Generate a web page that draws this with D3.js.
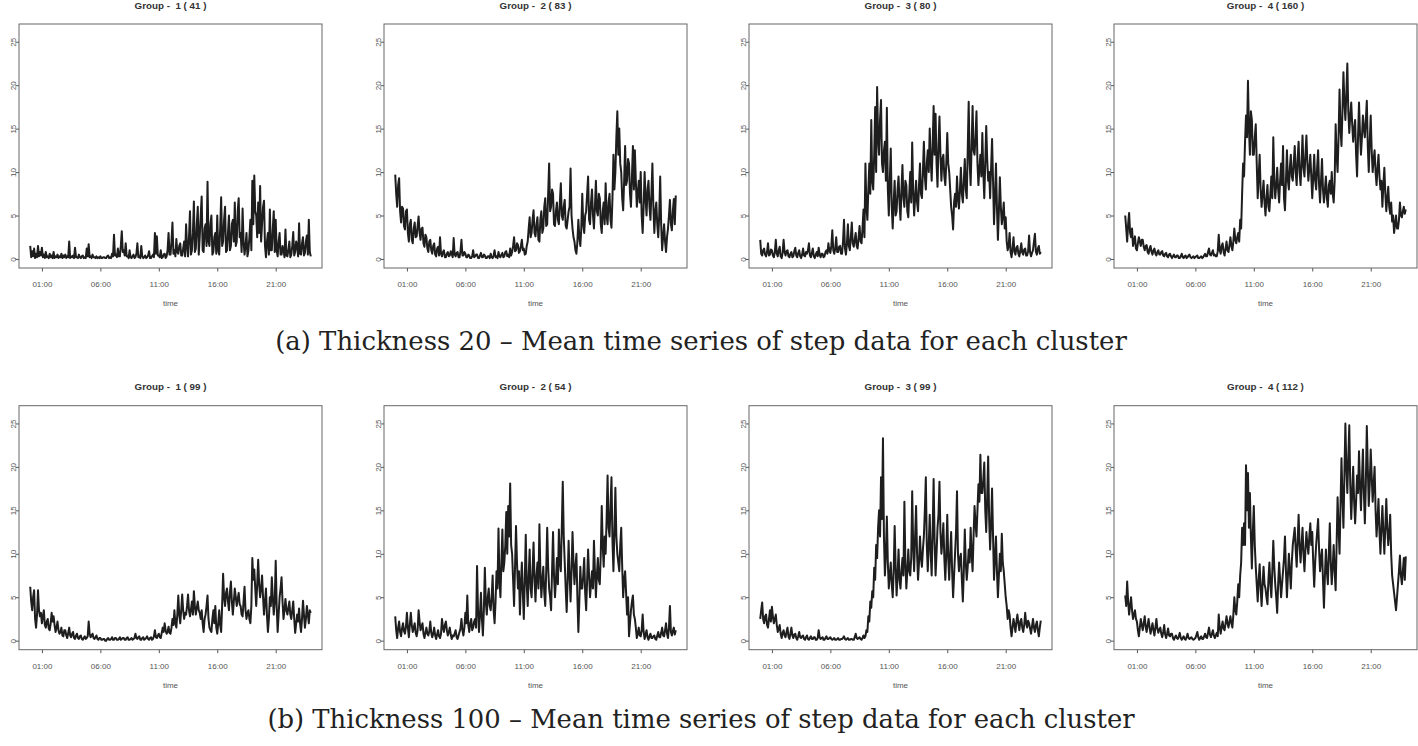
<!DOCTYPE html>
<html>
<head>
<meta charset="utf-8">
<script src="https://cdn.jsdelivr.net/npm/d3@7"></script>
<style>
  body { margin: 0; background: #fff; }
  svg { display: block; }
  .tick text { font-family: "Liberation Sans", Arial, sans-serif; font-size: 8px; fill: #555; }
  .tick line { stroke: #555; }
</style>
</head>
<body>
<svg id="chart" width="1418" height="746"></svg>
<script>
// mean steps per 5-minute slot, 00:00 .. 24:00 (289 values, one row per hour)
const thick20g1 = [
  1.5,0.2,0.9,0.3,1.2,0.1,0.6,0.2,1.5,0.3,0.8,0.4,
  1.3,0.2,0.5,0.1,0.8,0.2,0.3,0.1,0.6,0.2,0.4,0.1,
  0.8,0.1,0.3,0.2,0.5,0.1,0.3,0.2,0.6,0.1,0.4,0.2,
  0.5,0.1,0.3,0.2,2.0,0.1,0.3,0.2,0.4,0.1,1.3,0.2,
  0.2,0.1,0.5,0.2,0.1,0.3,0.4,0.1,0.2,0.1,1.2,0.3,
  1.7,0.2,0.3,0.1,0.5,0.2,0.2,0.1,0.3,0.1,0.2,0.1,
  0.3,0.1,0.1,0.2,0.2,0.1,0.1,0.3,0.4,0.1,0.2,0.1,
  0.6,0.3,2.8,0.4,0.5,0.2,1.2,0.3,0.3,1.5,3.2,0.8,
  1.0,0.4,1.8,0.3,0.3,0.1,1.0,0.2,0.1,0.3,0.5,0.1,
  0.2,0.6,1.8,0.2,0.3,0.1,1.5,0.3,0.1,0.2,0.4,0.1,
  0.2,0.4,0.9,0.1,0.1,0.3,0.5,0.2,3.0,0.6,2.6,0.4,
  0.4,0.2,1.0,0.1,0.2,0.5,0.6,0.1,0.3,1.0,3.0,0.5,
  0.5,2.0,4.2,0.6,1.0,0.3,2.3,0.8,0.6,1.5,1.8,0.4,
  0.4,1.2,2.0,0.3,4.0,1.5,0.3,2.5,5.5,0.5,1.0,3.0,
  6.6,0.8,1.2,4.0,6.0,0.5,2.5,5.0,7.2,1.0,0.8,3.5,
  4.0,1.5,8.9,2.0,1.5,4.0,5.0,0.5,0.8,2.5,3.0,0.6,
  5.0,1.0,0.5,3.5,7.1,1.5,2.0,4.5,6.0,0.8,1.0,3.0,
  5.0,1.0,1.5,4.0,4.5,2.0,6.5,1.5,2.0,5.5,7.0,2.5,
  3.0,0.8,5.8,2.0,0.5,1.5,3.0,0.3,1.0,2.5,4.5,1.0,
  9.0,4.0,9.6,5.5,5.0,2.5,6.5,3.0,8.4,2.0,4.0,6.0,
  6.7,1.5,0.2,2.0,3.0,0.5,5.7,1.0,1.0,3.5,5.5,0.8,
  4.5,1.0,0.3,2.0,3.0,0.5,0.5,1.5,1.0,0.2,3.4,0.4,
  0.3,1.0,2.0,0.2,0.5,1.5,3.1,0.4,0.8,2.0,1.5,0.3,
  4.1,0.6,0.5,1.8,2.5,0.4,0.7,2.0,2.7,0.5,4.5,0.8,
  0.3
];
const thick20g2 = [
  9.7,7.5,6.0,8.5,9.3,5.5,4.2,6.0,5.8,3.8,3.4,5.5,
  5.7,3.0,2.0,4.0,4.5,2.2,1.8,3.5,4.2,2.5,2.6,3.8,
  4.9,3.0,2.2,3.5,3.6,1.8,1.4,2.8,2.5,1.2,0.8,2.0,
  2.2,1.0,0.6,1.5,1.8,0.5,0.3,1.2,1.4,0.4,2.5,0.6,
  0.3,0.8,1.0,0.2,0.2,0.6,0.8,0.3,0.4,0.9,0.6,0.2,
  2.4,0.5,0.3,0.7,0.8,0.2,0.2,0.9,2.2,0.4,0.4,0.8,
  0.6,0.2,0.2,0.5,0.4,0.1,0.1,0.3,1.0,0.2,0.3,0.5,
  0.5,0.1,0.1,0.4,0.7,0.2,0.2,0.5,0.4,0.1,0.1,0.3,
  0.3,0.1,0.6,0.2,0.1,0.4,1.0,0.2,0.3,0.1,0.8,0.3,
  0.2,0.5,0.7,0.2,0.3,0.8,0.9,0.3,0.5,0.2,1.2,0.4,
  0.8,1.5,2.5,0.9,1.0,1.8,1.6,0.7,0.9,1.5,2.2,1.0,
  1.2,0.5,0.6,1.5,2.0,3.5,4.8,2.5,3.0,4.5,5.6,3.0,
  2.6,4.0,4.8,2.2,2.0,4.5,5.5,3.0,3.5,6.0,7.0,3.8,
  4.0,7.5,11.0,5.5,6.0,8.0,7.5,4.0,3.8,5.5,6.5,4.5,
  4.0,6.5,8.7,5.0,4.5,6.0,6.8,3.8,3.5,4.5,5.5,6.0,
  10.4,5.0,3.5,2.5,2.0,1.0,0.6,2.0,4.5,2.5,1.5,3.5,
  7.5,4.0,3.0,5.0,5.5,7.5,9.5,4.5,4.0,6.5,8.0,5.0,
  3.5,6.0,9.0,5.5,5.0,7.5,7.0,4.0,3.0,5.5,6.5,4.0,
  8.7,5.0,4.0,6.5,7.5,4.5,3.6,7.0,12.0,8.0,10.0,14.0,
  17.0,12.0,15.0,11.0,10.0,7.0,5.6,9.0,13.0,8.5,9.0,11.5,
  11.0,7.5,6.0,9.5,13.0,8.0,12.5,9.0,6.0,7.5,9.0,6.5,
  10.0,5.0,3.0,6.0,10.0,7.0,5.0,8.0,9.0,6.0,4.5,7.5,
  11.0,6.0,3.0,5.5,6.5,4.0,2.5,5.0,9.5,4.0,1.0,2.5,
  4.0,2.0,0.8,2.5,3.5,5.0,6.8,4.0,3.3,5.5,6.9,4.0,
  7.3
];
const thick20g3 = [
  2.2,0.6,0.4,1.0,1.2,0.5,0.3,0.8,1.8,0.4,0.5,1.1,
  1.0,0.4,0.2,0.8,2.2,0.6,0.3,1.0,1.4,0.3,0.1,0.7,
  2.2,0.8,0.4,0.9,1.0,0.3,0.2,0.6,0.8,0.2,0.3,0.9,
  1.3,0.4,0.2,0.7,1.0,0.3,0.1,0.5,1.2,0.4,0.3,0.8,
  0.6,1.0,1.8,0.4,0.2,0.7,1.2,0.3,0.1,0.5,0.8,0.3,
  1.3,0.5,0.2,0.6,0.6,0.2,0.3,0.8,1.0,0.6,1.8,0.9,
  0.7,1.5,3.3,1.0,0.6,1.2,2.5,0.8,0.8,1.4,1.5,0.6,
  0.6,2.0,4.5,1.2,0.5,1.8,4.0,1.5,1.0,2.5,4.2,1.8,
  1.4,2.2,3.0,1.5,1.2,2.5,3.8,2.0,1.8,3.5,5.7,2.5,
  11.0,6.0,4.5,8.0,11.0,7.5,16.0,9.0,8.0,12.0,17.5,10.0,
  19.8,14.0,12.0,16.0,18.3,11.0,10.0,12.5,13.5,9.0,17.4,8.0,
  5.0,9.0,12.7,6.0,3.5,6.5,9.0,5.0,5.5,8.0,9.5,6.5,
  4.5,8.0,10.8,7.0,6.0,9.0,8.5,5.5,4.8,7.5,10.0,6.5,
  13.4,8.0,5.0,7.0,9.0,6.5,5.5,8.5,11.0,7.5,7.0,10.0,
  13.5,9.5,8.0,11.0,12.5,10.0,15.0,11.5,9.0,13.0,17.6,12.0,
  16.7,11.0,8.3,13.0,16.4,12.0,9.0,11.5,12.0,9.5,8.5,11.0,
  14.5,11.0,10.0,8.0,6.0,5.0,3.4,6.5,7.5,6.0,9.5,7.0,
  5.8,8.0,10.5,7.5,6.5,9.0,11.5,8.0,7.0,12.5,18.1,11.0,
  8.5,13.0,17.6,12.5,12.0,14.0,17.0,11.0,8.5,10.5,12.0,9.5,
  14.5,10.0,7.0,11.0,15.3,11.5,9.0,10.0,7.0,10.5,13.8,9.0,
  4.0,7.0,11.0,6.0,2.2,5.5,9.4,6.0,4.0,5.0,6.5,3.5,
  4.8,2.0,1.0,1.5,3.0,0.8,0.2,1.2,2.5,0.8,0.5,1.3,
  1.5,0.6,0.3,1.0,1.8,0.7,0.5,1.1,1.2,0.4,0.4,0.9,
  2.7,0.8,0.3,0.7,1.0,2.0,2.9,0.8,0.5,1.2,1.5,0.6,
  0.8
];
const thick20g4 = [
  5.0,3.5,2.0,4.0,5.3,3.0,2.5,3.5,1.5,2.0,2.6,1.2,
  1.0,1.8,2.5,2.0,1.5,2.2,2.2,1.4,1.0,1.5,1.6,0.8,
  0.6,1.2,1.5,0.8,0.5,1.0,1.2,0.6,0.4,0.8,1.0,0.5,
  0.5,0.8,0.9,0.4,0.3,0.6,0.7,0.3,0.2,0.5,0.6,0.3,
  0.1,0.3,0.5,0.2,0.2,0.4,0.4,0.1,0.1,0.3,0.6,0.2,
  0.1,0.3,0.4,0.1,0.2,0.4,0.5,0.2,0.1,0.2,0.3,0.1,
  0.2,0.3,0.4,0.1,0.1,0.2,0.3,0.1,0.2,0.4,0.6,0.3,
  0.3,0.8,1.2,0.5,0.4,0.7,1.0,0.4,0.5,0.3,0.3,0.9,
  2.8,1.0,0.6,1.5,1.8,0.8,0.4,1.2,2.0,1.0,0.8,1.6,
  2.5,1.5,1.0,2.0,3.5,2.2,1.8,2.5,3.0,2.0,4.5,3.5,
  7.5,11.0,9.5,13.5,16.5,14.0,20.5,15.0,12.0,17.0,16.0,12.0,
  12.0,14.0,15.5,11.0,7.0,9.5,12.0,8.0,6.0,7.5,9.0,6.5,
  5.0,7.0,8.5,6.0,5.5,7.5,9.5,7.0,14.0,9.0,7.0,8.5,
  10.5,8.0,6.5,9.0,11.0,8.5,13.0,7.0,5.6,9.0,12.5,9.0,
  8.0,10.5,12.0,9.5,9.0,11.0,13.0,10.0,8.5,11.5,13.5,10.0,
  8.5,11.0,14.2,10.5,9.5,12.0,14.2,11.0,9.0,10.5,12.0,9.5,
  7.0,9.5,12.0,9.0,8.0,10.5,12.5,8.5,6.5,9.0,11.5,8.0,
  6.5,8.0,9.5,7.0,6.0,8.5,9.0,7.5,10.0,7.5,6.5,9.0,
  15.5,12.0,10.0,14.0,19.5,15.0,13.0,17.0,21.5,18.0,16.0,19.0,
  22.5,17.0,14.5,16.5,18.0,15.5,13.5,15.0,16.0,12.0,9.5,14.0,
  18.0,14.5,12.0,14.0,16.5,15.0,14.0,16.0,18.2,13.0,10.0,13.5,
  16.5,12.5,10.0,11.5,12.5,10.0,8.5,10.5,12.0,9.5,8.0,9.0,
  6.0,8.5,10.5,7.5,5.5,7.0,8.3,6.0,5.2,6.5,4.3,5.0,
  3.0,4.0,5.0,3.5,3.5,4.5,6.5,5.0,4.8,5.5,6.0,5.2,
  5.7
];
const thick100g1 = [
  6.2,4.5,3.5,5.0,5.8,2.5,1.5,3.0,5.8,3.5,2.8,3.2,
  2.0,2.8,3.5,1.8,1.5,2.2,2.5,1.4,1.2,2.0,3.2,2.2,
  2.8,1.8,1.0,1.5,2.2,1.2,0.8,1.0,1.5,0.6,0.5,1.2,
  1.2,0.6,0.3,0.9,1.5,0.6,0.4,0.8,1.0,0.3,0.2,0.6,
  0.8,0.3,0.2,0.5,0.6,0.2,0.1,0.3,0.5,0.2,0.3,0.5,
  2.2,0.8,0.4,0.6,0.8,0.3,0.2,0.4,0.6,0.2,0.1,0.3,
  0.3,0.1,0.1,0.2,0.2,0.0,0.0,0.2,0.3,0.1,0.1,0.2,
  0.4,0.1,0.1,0.3,0.3,0.1,0.1,0.2,0.4,0.1,0.2,0.3,
  0.3,0.1,0.1,0.3,0.4,0.1,0.1,0.2,0.3,0.1,0.2,0.3,
  0.8,0.3,0.2,0.4,0.5,0.1,0.1,0.3,0.4,0.1,0.2,0.3,
  0.5,0.2,0.1,0.3,0.4,0.1,0.2,0.5,1.2,0.4,0.3,0.6,
  0.8,0.4,0.3,0.9,1.5,1.0,2.0,1.2,0.8,1.0,1.6,0.9,
  0.8,1.5,2.5,1.8,3.5,2.0,1.5,3.0,5.2,3.0,2.0,3.5,
  5.3,3.5,2.5,3.2,3.0,4.0,5.3,3.5,2.8,3.6,4.5,3.0,
  5.7,4.0,3.0,3.8,4.5,3.5,3.2,2.5,3.5,2.0,1.0,2.5,
  3.0,4.0,5.2,2.5,1.5,1.2,1.0,2.5,3.5,2.0,4.0,1.5,
  0.8,2.0,3.5,1.8,1.0,4.0,7.7,5.0,4.0,5.5,6.0,4.5,
  3.5,5.5,6.8,4.5,3.0,4.5,6.0,5.0,4.0,4.8,5.5,4.2,
  4.0,3.0,2.8,4.5,6.2,3.5,2.5,3.2,3.5,2.5,2.0,4.0,
  9.5,7.0,8.2,6.0,4.0,6.5,9.3,6.5,5.0,6.0,7.5,5.0,
  3.0,4.5,6.0,3.0,1.0,2.5,5.0,4.0,7.3,5.0,3.0,4.5,
  9.2,4.0,1.0,3.0,5.0,6.0,7.3,4.5,2.5,3.5,4.8,3.5,
  3.0,3.8,4.5,3.0,2.5,3.5,4.5,2.5,0.9,2.0,3.0,2.2,
  3.7,2.0,1.0,2.5,4.6,3.0,1.5,2.5,4.0,3.0,2.0,3.5,
  3.2
];
const thick100g2 = [
  2.8,1.2,0.3,1.5,2.2,1.0,0.5,1.4,2.0,1.1,0.8,1.6,
  3.2,1.5,0.4,1.8,3.2,1.8,1.0,1.5,2.0,0.9,0.5,1.2,
  3.5,2.2,1.2,1.6,2.0,0.8,0.3,0.9,1.5,0.8,0.6,1.1,
  2.2,0.9,0.4,0.8,1.5,0.6,0.2,0.7,1.2,0.5,0.3,0.8,
  2.5,1.5,1.0,1.8,2.2,1.2,0.6,1.0,1.5,0.7,0.2,0.6,
  0.5,0.8,1.2,0.4,0.2,0.6,1.0,1.4,2.5,1.2,0.6,1.5,
  3.2,2.0,5.2,1.8,1.0,2.0,2.5,1.2,1.5,2.2,2.5,1.5,
  8.6,3.5,1.0,3.0,5.5,2.5,0.6,3.5,8.4,4.5,3.0,5.0,
  6.0,4.0,3.5,5.0,7.5,3.5,2.0,4.5,8.0,6.0,12.9,7.0,
  5.0,9.0,12.8,8.0,9.0,11.0,14.8,10.0,15.5,12.0,18.1,11.0,
  10.0,7.0,4.0,8.5,13.2,9.0,6.0,8.0,3.0,6.5,9.0,5.5,
  2.5,7.0,12.2,6.5,4.0,7.5,10.5,6.0,5.0,8.0,11.3,7.0,
  4.5,7.5,9.0,6.0,13.4,8.0,5.0,7.0,8.5,5.5,4.0,8.0,
  13.0,8.5,6.0,5.0,3.5,8.0,12.5,7.5,5.0,7.0,9.5,6.5,
  12.8,9.0,8.0,13.0,18.3,12.0,9.0,6.0,3.3,7.0,11.5,7.5,
  4.5,8.0,12.5,9.0,6.5,8.5,10.0,5.0,1.0,4.5,8.5,6.0,
  6.0,7.5,9.5,5.5,3.5,7.0,10.5,7.5,5.0,6.5,8.0,6.0,
  11.5,8.0,5.0,7.5,9.5,7.0,6.5,10.0,15.5,11.0,8.5,12.0,
  10.0,14.0,19.0,13.0,12.0,15.5,18.8,11.5,8.0,12.5,17.6,12.0,
  10.0,9.0,8.0,11.0,13.0,8.5,5.0,7.0,8.0,5.5,3.0,5.0,
  0.5,2.0,3.5,4.5,5.2,3.0,2.5,1.5,0.3,0.8,1.5,0.6,
  0.5,1.2,3.0,1.0,0.2,0.7,1.2,0.4,0.1,0.5,0.8,0.3,
  0.3,0.5,0.6,0.2,0.1,0.6,1.0,0.4,0.4,0.9,1.5,0.6,
  0.5,1.2,2.0,0.8,0.3,1.5,4.0,1.0,0.6,1.1,1.5,0.7,
  1.2
];
const thick100g3 = [
  2.5,3.5,4.4,2.5,2.0,2.8,3.0,1.8,1.5,2.5,3.5,2.2,
  3.9,2.8,2.0,2.5,3.0,1.8,1.0,1.4,1.8,0.8,0.3,0.9,
  1.2,0.6,0.4,1.0,1.5,0.5,0.2,0.8,1.5,0.6,0.3,0.7,
  0.8,0.3,0.1,0.5,1.0,0.4,0.3,0.5,0.6,0.2,0.1,0.4,
  0.6,0.2,0.1,0.3,0.5,0.2,0.2,0.4,0.4,0.1,0.1,0.3,
  1.2,0.4,0.2,0.3,0.4,0.1,0.1,0.3,0.5,0.2,0.2,0.3,
  0.4,0.2,0.1,0.2,0.3,0.1,0.1,0.2,0.3,0.1,0.1,0.2,
  0.2,0.3,0.5,0.2,0.1,0.2,0.3,0.1,0.1,0.2,0.2,0.1,
  0.1,0.4,0.8,0.3,0.2,0.3,0.4,0.2,0.1,0.3,0.6,0.3,
  0.5,1.2,1.0,2.8,2.2,4.5,3.8,5.7,5.0,8.4,7.0,11.0,
  9.5,13.0,15.0,12.0,18.8,14.0,23.3,12.0,7.5,10.0,14.3,9.0,
  6.0,7.5,9.0,6.5,5.0,8.0,13.2,8.5,5.2,7.5,10.5,7.0,
  6.0,8.0,9.5,7.5,16.0,9.0,6.0,8.0,10.5,8.0,7.5,9.5,
  17.2,11.0,8.0,12.0,15.5,10.0,7.0,9.0,12.0,9.5,8.5,10.5,
  12.0,15.0,18.8,11.0,8.0,11.0,14.5,10.0,7.5,12.5,18.6,11.5,
  7.5,10.0,13.0,14.5,18.3,12.5,10.0,11.5,13.5,9.5,7.0,10.0,
  14.5,9.5,7.0,10.0,12.5,8.0,5.0,7.5,10.0,12.5,17.2,10.0,
  8.0,9.5,10.0,7.0,4.5,8.0,12.8,9.0,7.0,8.5,10.5,9.0,
  13.0,10.0,8.0,12.0,15.5,13.5,12.0,15.0,18.0,16.0,21.4,17.0,
  17.0,18.5,20.5,15.0,12.5,16.5,21.2,14.0,10.5,13.5,17.5,12.0,
  7.0,9.5,12.0,8.0,5.0,7.5,10.0,8.0,12.3,9.0,8.0,6.5,
  5.0,4.0,2.5,3.5,3.0,1.5,0.5,1.5,2.5,1.8,1.0,2.2,
  3.0,2.0,1.2,2.2,2.5,1.5,1.0,1.8,3.2,2.0,1.5,2.3,
  2.0,1.4,0.8,1.6,2.5,1.5,1.0,1.8,2.2,1.2,0.5,1.5,
  2.3
];
const thick100g4 = [
  5.2,4.0,6.8,4.5,3.0,4.0,5.0,3.5,2.5,3.0,3.5,2.5,
  2.2,1.2,0.5,1.5,2.5,1.8,1.2,2.0,2.8,1.6,1.0,1.8,
  2.5,1.5,0.8,1.4,2.0,1.2,0.6,1.5,2.5,1.4,0.9,1.3,
  1.5,0.8,0.4,1.0,1.8,0.7,0.3,0.8,1.4,0.6,0.5,0.8,
  0.8,0.3,0.1,0.4,0.6,0.3,0.2,0.5,0.9,0.3,0.1,0.3,
  0.5,0.2,0.1,0.4,0.8,0.3,0.2,0.3,0.4,0.2,0.1,0.2,
  0.3,0.6,1.0,0.4,0.1,0.3,0.5,0.2,0.2,0.5,0.8,0.4,
  0.3,0.9,1.5,0.7,0.4,0.8,1.2,0.6,0.3,0.6,0.9,0.5,
  3.0,1.5,0.8,1.6,2.2,1.4,1.2,2.0,2.8,2.0,1.5,2.2,
  2.8,2.0,1.5,3.0,5.0,3.5,3.0,4.5,6.5,5.0,7.5,9.0,
  13.0,11.0,13.5,11.0,20.2,15.0,19.3,13.0,17.0,12.0,8.3,12.5,
  15.5,11.0,8.5,6.5,4.5,7.0,8.8,6.0,4.0,6.5,8.5,6.5,
  6.0,5.0,4.2,7.0,9.0,6.5,5.0,8.0,11.5,8.5,6.5,5.0,
  3.2,6.5,9.0,7.0,5.0,6.5,8.0,9.5,12.0,8.0,5.0,7.5,
  10.0,8.0,6.0,9.0,11.0,12.0,13.0,10.5,8.5,11.5,14.5,11.0,
  9.0,11.0,13.0,10.0,8.0,10.5,12.5,11.0,10.0,12.0,13.5,11.0,
  12.5,9.0,6.2,9.0,11.0,12.5,14.0,10.5,8.0,9.5,10.5,7.0,
  3.8,7.5,10.5,8.0,6.5,10.0,13.5,9.0,6.5,8.5,11.0,8.0,
  5.8,11.0,16.5,13.0,10.0,15.5,21.0,16.5,13.0,19.0,25.0,20.0,
  17.0,21.0,24.8,18.0,14.0,17.0,20.0,16.0,13.5,16.0,19.0,17.0,
  21.8,18.0,15.0,18.5,22.0,17.0,13.5,18.0,24.7,20.0,15.5,18.0,
  22.0,19.0,16.0,18.0,20.0,15.0,12.0,14.0,16.3,12.5,10.0,13.0,
  15.5,12.5,10.0,13.0,16.3,13.0,11.0,12.5,14.5,10.0,7.5,6.5,
  5.5,4.5,3.5,5.0,6.5,8.0,9.8,7.5,6.5,8.0,9.5,7.0,
  9.7
];

const rowSeries = [
  [thick20g1, thick20g2, thick20g3, thick20g4],
  [thick100g1, thick100g2, thick100g3, thick100g4]
];
const groupSizes = [[41, 83, 80, 160], [99, 54, 99, 112]];
const rowCaptions = [
  "(a) Thickness 20 \u2013 Mean time series of step data for each cluster",
  "(b) Thickness 100 \u2013 Mean time series of step data for each cluster"
];
const timeTicks = ["01:00", "06:00", "11:00", "16:00", "21:00"];
const yTicks = [0, 5, 10, 15, 20, 25];
const stepMinutes = 5;

// layout
const panelLeft = [19, 384, 749, 1114];
const panelW = 303, panelH = 244;
const rowTop = [24, 405.7];
const captionY = [350, 728];
const captionW = [852, 867];

const svg = d3.select("#chart");
const day0 = new Date(2020, 0, 1, 0, 0);
const parseHM = d3.timeParse("%H:%M");
const fmtHM = d3.timeFormat("%H:%M");
const tickDates = timeTicks.map(function (s) {
  const p = parseHM(s);
  return new Date(2020, 0, 1, p.getHours(), p.getMinutes());
});

rowSeries.forEach(function (row, r) {
  row.forEach(function (series, c) {
    const data = series.map(function (v, i) {
      return {t: d3.timeMinute.offset(day0, i * stepMinutes), v: v};
    });
    const tExt = d3.extent(data, d => d.t);
    const pad = (tExt[1] - tExt[0]) * 0.04;

    const x = d3.scaleTime()
      .domain([new Date(+tExt[0] - pad), new Date(+tExt[1] + pad)])
      .range([0, panelW]);
    const y = d3.scaleLinear()
      .domain([0 - 26 * 0.04, 26 * 1.04])
      .range([panelH, 0]);

    const g = svg.append("g")
      .attr("transform", `translate(${panelLeft[c]},${rowTop[r]})`);

    g.append("text")
      .attr("x", panelW / 2)
      .attr("y", -15.5)
      .attr("text-anchor", "middle")
      .style("font-family", "Liberation Sans, Arial, sans-serif")
      .style("font-weight", "bold")
      .style("font-size", "9.8px")
      .style("fill", "#333")
      .style("white-space", "pre")
      .text("Group -  " + (c + 1) + " ( " + groupSizes[r][c] + " )");

    const line = d3.line()
      .x(d => x(d.t))
      .y(d => y(d.v));

    g.append("path")
      .datum(data)
      .attr("d", line)
      .attr("fill", "none")
      .attr("stroke", "#1e1e1e")
      .attr("stroke-width", 2)
      .attr("stroke-linejoin", "round");

    // x axis
    const xAxis = g.append("g")
      .attr("transform", `translate(0,${panelH})`)
      .call(d3.axisBottom(x).tickValues(tickDates).tickFormat(fmtHM).tickSize(3.5).tickSizeOuter(0));
    xAxis.select(".domain").remove();
    xAxis.selectAll(".tick text").attr("y", 19).attr("dy", 0);

    // y axis, labels rotated like base R
    const yAxis = g.append("g")
      .call(d3.axisLeft(y).tickValues(yTicks).tickSize(3.5).tickSizeOuter(0));
    yAxis.select(".domain").remove();
    yAxis.selectAll(".tick text")
      .attr("transform", "rotate(-90)")
      .attr("x", 0)
      .attr("y", -3.5)
      .attr("dy", 0)
      .attr("text-anchor", "middle");

    g.append("text")
      .attr("x", panelW / 2)
      .attr("y", panelH + 38)
      .attr("text-anchor", "middle")
      .style("font-family", "Liberation Sans, Arial, sans-serif")
      .style("font-size", "8px")
      .style("fill", "#555")
      .text("time");

    g.append("rect")
      .attr("width", panelW)
      .attr("height", panelH)
      .attr("fill", "none")
      .attr("stroke", "#666")
      .attr("stroke-width", 1);
  });

  const cap = svg.append("text")
    .attr("x", 701)
    .attr("y", captionY[r])
    .attr("text-anchor", "middle")
    .style("font-family", "DejaVu Serif, serif")
    .style("font-size", "20px")
    .style("fill", "#222")
    .text(rowCaptions[r]);
  const w = cap.node().getComputedTextLength();
  cap.style("font-size", (20 * captionW[r] / w).toFixed(2) + "px");
});
</script>
</body>
</html>
